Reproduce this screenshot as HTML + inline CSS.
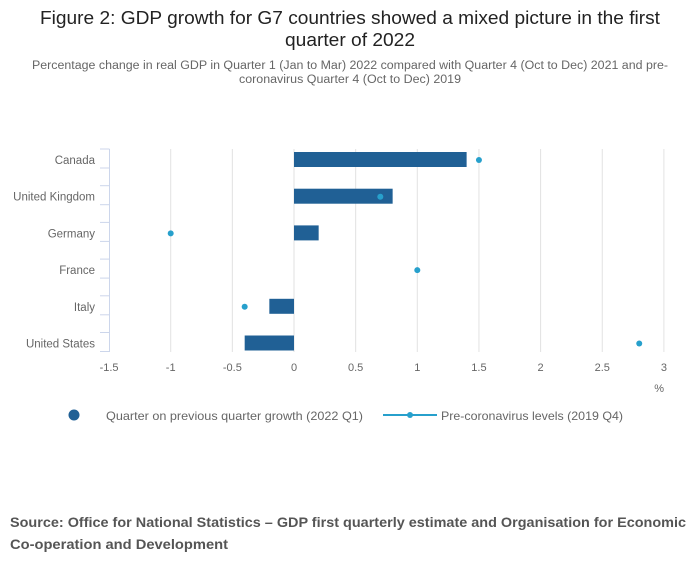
<!DOCTYPE html>
<html><head><meta charset="utf-8"><style>
body{margin:0;background:#fff;font-family:"Liberation Sans",sans-serif;}
</style></head><body>
<svg width="700" height="574" xmlns="http://www.w3.org/2000/svg" font-family="Liberation Sans, sans-serif">
<text x="350" y="24" text-anchor="middle" font-size="18" fill="#222" textLength="620" lengthAdjust="spacingAndGlyphs">Figure 2: GDP growth for G7 countries showed a mixed picture in the first</text>
<text x="350" y="46" text-anchor="middle" font-size="18" fill="#222" textLength="130" lengthAdjust="spacingAndGlyphs">quarter of 2022</text>
<text x="350" y="69" text-anchor="middle" font-size="11.5" fill="#666" textLength="636" lengthAdjust="spacingAndGlyphs">Percentage change in real GDP in Quarter 1 (Jan to Mar) 2022 compared with Quarter 4 (Oct to Dec) 2021 and pre-</text>
<text x="350" y="83" text-anchor="middle" font-size="11.5" fill="#666" textLength="222" lengthAdjust="spacingAndGlyphs">coronavirus Quarter 4 (Oct to Dec) 2019</text>
<g id="plot"></g>
<text x="664" y="392" text-anchor="end" font-size="11" fill="#666">%</text>
<circle cx="74" cy="415" r="5.5" fill="#206095"/>
<text x="106" y="420" font-size="12" fill="#666" textLength="257" lengthAdjust="spacingAndGlyphs">Quarter on previous quarter growth (2022 Q1)</text>
<line x1="383" y1="415" x2="437" y2="415" stroke="#27a0cc" stroke-width="2"/>
<circle cx="410" cy="415" r="3" fill="#27a0cc"/>
<text x="441" y="420" font-size="12" fill="#666" textLength="182" lengthAdjust="spacingAndGlyphs">Pre-coronavirus levels (2019 Q4)</text>
<text x="10" y="527" font-size="14" font-weight="bold" fill="#555" textLength="676" lengthAdjust="spacingAndGlyphs">Source: Office for National Statistics – GDP first quarterly estimate and Organisation for Economic</text>
<text x="10" y="549" font-size="14" font-weight="bold" fill="#555" textLength="218" lengthAdjust="spacingAndGlyphs">Co-operation and Development</text>
</svg>
<script>
const categories=["Canada","United Kingdom","Germany","France","Italy","United States"];
const quarterGrowth=[1.4,0.8,0.2,0,-0.2,-0.4];
const preCovid=[1.5,0.7,-1.0,1.0,-0.4,2.8];
const xTicks=[-1.5,-1,-0.5,0,0.5,1,1.5,2,2.5,3];
const NS="http://www.w3.org/2000/svg";
const g=document.getElementById("plot");
const x=v=>294+v*123.3;
const y=i=>160+i*36.7;
function mk(t,a){const e=document.createElementNS(NS,t);for(const k in a)e.setAttribute(k,a[k]);g.appendChild(e);return e;}
xTicks.forEach(v=>{
  if(v!==-1.5){const l=mk("line",{x1:x(v),x2:x(v),y1:149,y2:352,stroke:"#e2e2e2"});
  
  }
  const t=mk("text",{x:x(v),y:371,"text-anchor":"middle","font-size":11,fill:"#666"});
  t.textContent=String(v);
  
  
});
const ax=mk("line",{x1:109.5,x2:109.5,y1:149,y2:352,stroke:"#ccd6eb"});


categories.forEach((c,i)=>{
  [y(i)-11,y(i)+8].forEach(ty=>{const tk=mk("line",{x1:100,x2:109.5,y1:ty,y2:ty,stroke:"#ccd6eb"});
  
  });
  const t=mk("text",{x:95,y:y(i)+4,"text-anchor":"end","font-size":11.5,fill:"#666"});
  t.textContent=c;
  
  
  const v=quarterGrowth[i];
  const b=mk("rect",{x:Math.min(x(0),x(v)),y:y(i)-8,width:Math.abs(x(v)-x(0)),height:15,fill:"#206095"});
  
  
});
categories.forEach((c,i)=>{
  const d=mk("circle",{cx:x(preCovid[i]),cy:y(i),r:3,fill:"#27a0cc"});
  
  
});
</script>
</body></html>
